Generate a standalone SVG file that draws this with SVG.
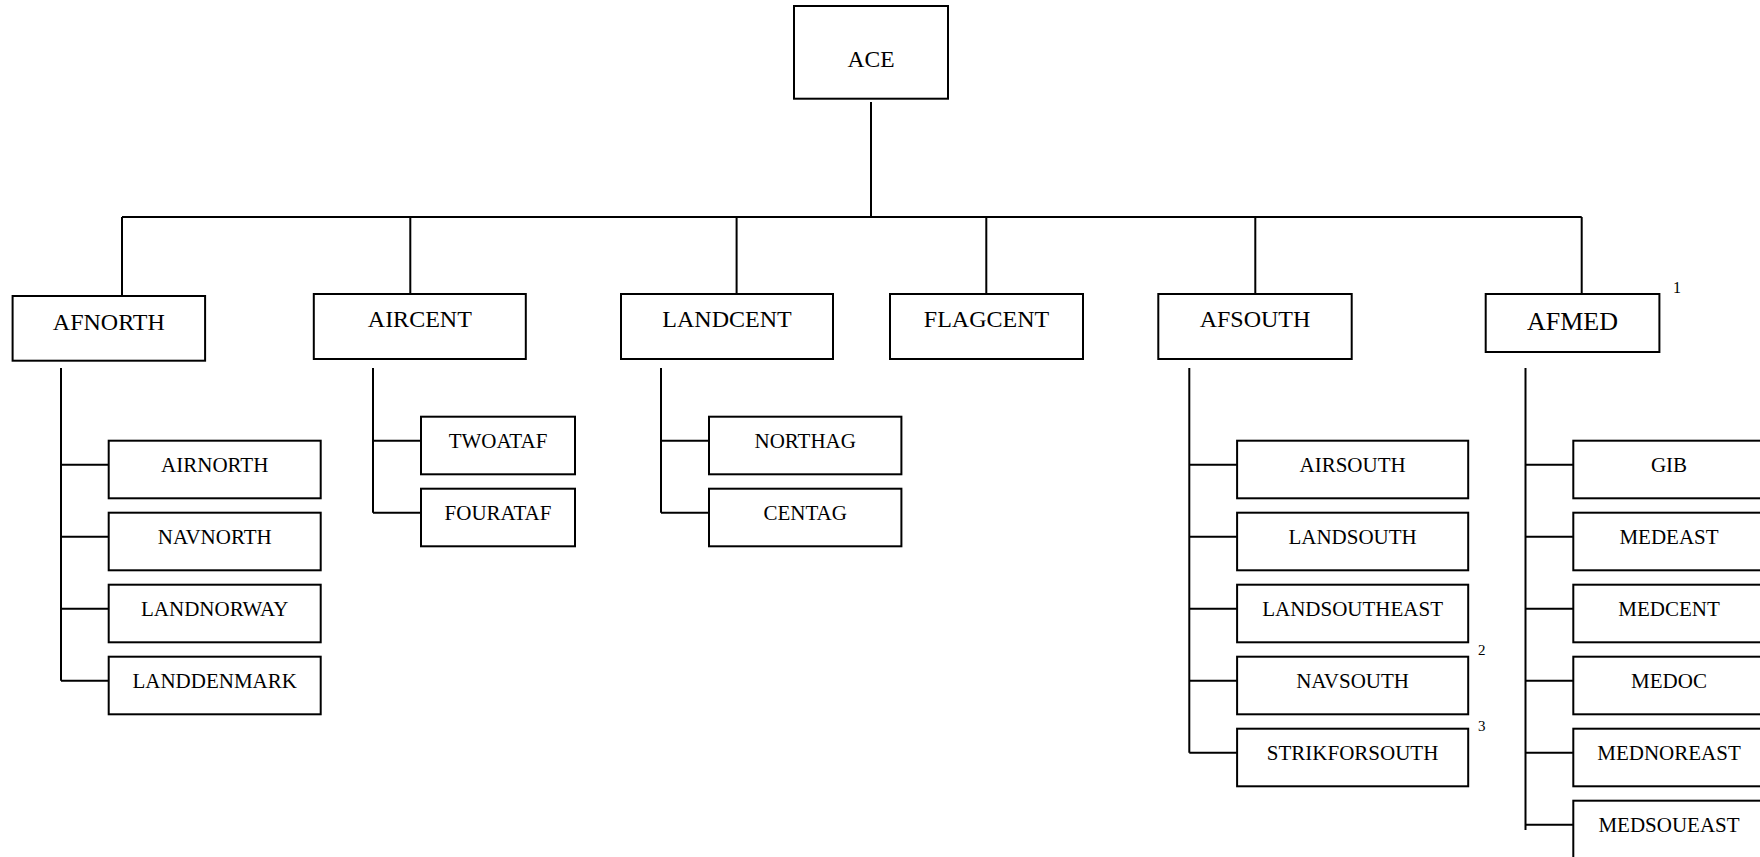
<svg xmlns="http://www.w3.org/2000/svg" width="1760" height="857" viewBox="0 0 1760 857">
<style>
rect{fill:#fff;stroke:#000;stroke-width:2}
#connectors path{fill:none;stroke:#000;stroke-width:2}
text{font-family:"Liberation Serif","Times New Roman",serif;fill:#000;text-anchor:middle}
.t1{font-size:24px}
.t2{font-size:21px}
.sup{font-size:15px;text-anchor:start}
</style>
<rect x="0" y="0" width="1760" height="857" style="stroke:none"/>
<g id="connectors">
<path d="M871 102V217M122 217H1581.7M122 217V296M410.3 217V294M736.6 217V294M986.3 217V294M1255.3 217V294M1581.7 217V294"/>
<path d="M61 368V680.7M61 464.7H108.7M61 536.7H108.7M61 608.7H108.7M61 680.7H108.7"/>
<path d="M373 368V512.7M373 440.7H421M373 512.7H421"/>
<path d="M661 368V512.7M661 440.7H709M661 512.7H709"/>
<path d="M1189.3 368V752.7M1189.3 464.7H1237.1M1189.3 536.7H1237.1M1189.3 608.7H1237.1M1189.3 680.7H1237.1M1189.3 752.7H1237.1"/>
<path d="M1525.5 368V830M1525.5 464.7H1573.3M1525.5 536.7H1573.3M1525.5 608.7H1573.3M1525.5 680.7H1573.3M1525.5 752.7H1573.3M1525.5 824.7H1573.3"/>
</g>
<g id="ace"><rect x="794" y="6" width="154" height="92.7"/><text x="871" y="66.7" style="font-size:23.5px">ACE</text></g>
<g id="afnorth"><rect x="12.6" y="296" width="192.5" height="64.7"/><text class="t1" x="108.8" y="330">AFNORTH</text></g>
<g id="aircent"><rect x="313.8" y="294" width="212" height="65"/><text class="t1" x="419.8" y="327">AIRCENT</text></g>
<g id="landcent"><rect x="621" y="294" width="212" height="65"/><text class="t1" x="727" y="327">LANDCENT</text></g>
<g id="flagcent"><rect x="890" y="294" width="193" height="65"/><text class="t1" x="986.5" y="327">FLAGCENT</text></g>
<g id="afsouth"><rect x="1158.3" y="294" width="193.4" height="65"/><text class="t1" x="1255" y="327">AFSOUTH</text></g>
<g id="afmed"><rect x="1485.7" y="294" width="173.7" height="58"/><text x="1572.5" y="330" style="font-size:26px">AFMED</text><text class="sup" x="1673" y="293" style="font-size:16px">1</text></g>
<g id="airnorth"><rect x="108.7" y="440.7" width="212" height="57.6"/><text class="t2" x="214.7" y="472.3">AIRNORTH</text></g>
<g id="navnorth"><rect x="108.7" y="512.7" width="212" height="57.6"/><text class="t2" x="214.7" y="544.3">NAVNORTH</text></g>
<g id="landnorway"><rect x="108.7" y="584.7" width="212" height="57.6"/><text class="t2" x="214.7" y="616.3">LANDNORWAY</text></g>
<g id="landdenmark"><rect x="108.7" y="656.7" width="212" height="57.6"/><text class="t2" x="214.7" y="688.3">LANDDENMARK</text></g>
<g id="twoataf"><rect x="421" y="416.7" width="154" height="57.6"/><text class="t2" x="498" y="448.3">TWOATAF</text></g>
<g id="fourataf"><rect x="421" y="488.7" width="154" height="57.6"/><text class="t2" x="498" y="520.3">FOURATAF</text></g>
<g id="northag"><rect x="709" y="416.7" width="192.4" height="57.6"/><text class="t2" x="805.2" y="448.3">NORTHAG</text></g>
<g id="centag"><rect x="709" y="488.7" width="192.4" height="57.6"/><text class="t2" x="805.2" y="520.3">CENTAG</text></g>
<g id="airsouth"><rect x="1237.1" y="440.7" width="231.1" height="57.6"/><text class="t2" x="1352.6" y="472.3">AIRSOUTH</text></g>
<g id="landsouth"><rect x="1237.1" y="512.7" width="231.1" height="57.6"/><text class="t2" x="1352.6" y="544.3">LANDSOUTH</text></g>
<g id="landsoutheast"><rect x="1237.1" y="584.7" width="231.1" height="57.6"/><text class="t2" x="1352.6" y="616.3">LANDSOUTHEAST</text></g>
<g id="navsouth"><rect x="1237.1" y="656.7" width="231.1" height="57.6"/><text class="t2" x="1352.6" y="688.3">NAVSOUTH</text><text class="sup" x="1478" y="655">2</text></g>
<g id="strikforsouth"><rect x="1237.1" y="728.7" width="231.1" height="57.6"/><text class="t2" x="1352.6" y="760.3">STRIKFORSOUTH</text><text class="sup" x="1478" y="731">3</text></g>
<g id="gib"><rect x="1573.3" y="440.7" width="195" height="57.6"/><text class="t2" x="1669" y="472.3">GIB</text></g>
<g id="medeast"><rect x="1573.3" y="512.7" width="195" height="57.6"/><text class="t2" x="1669" y="544.3">MEDEAST</text></g>
<g id="medcent"><rect x="1573.3" y="584.7" width="195" height="57.6"/><text class="t2" x="1669" y="616.3">MEDCENT</text></g>
<g id="medoc"><rect x="1573.3" y="656.7" width="195" height="57.6"/><text class="t2" x="1669" y="688.3">MEDOC</text></g>
<g id="mednoreast"><rect x="1573.3" y="728.7" width="195" height="57.6"/><text class="t2" x="1669" y="760.3">MEDNOREAST</text></g>
<g id="medsoueast"><rect x="1573.3" y="800.7" width="195" height="80"/><text class="t2" x="1669" y="832.3">MEDSOUEAST</text></g>
</svg>
